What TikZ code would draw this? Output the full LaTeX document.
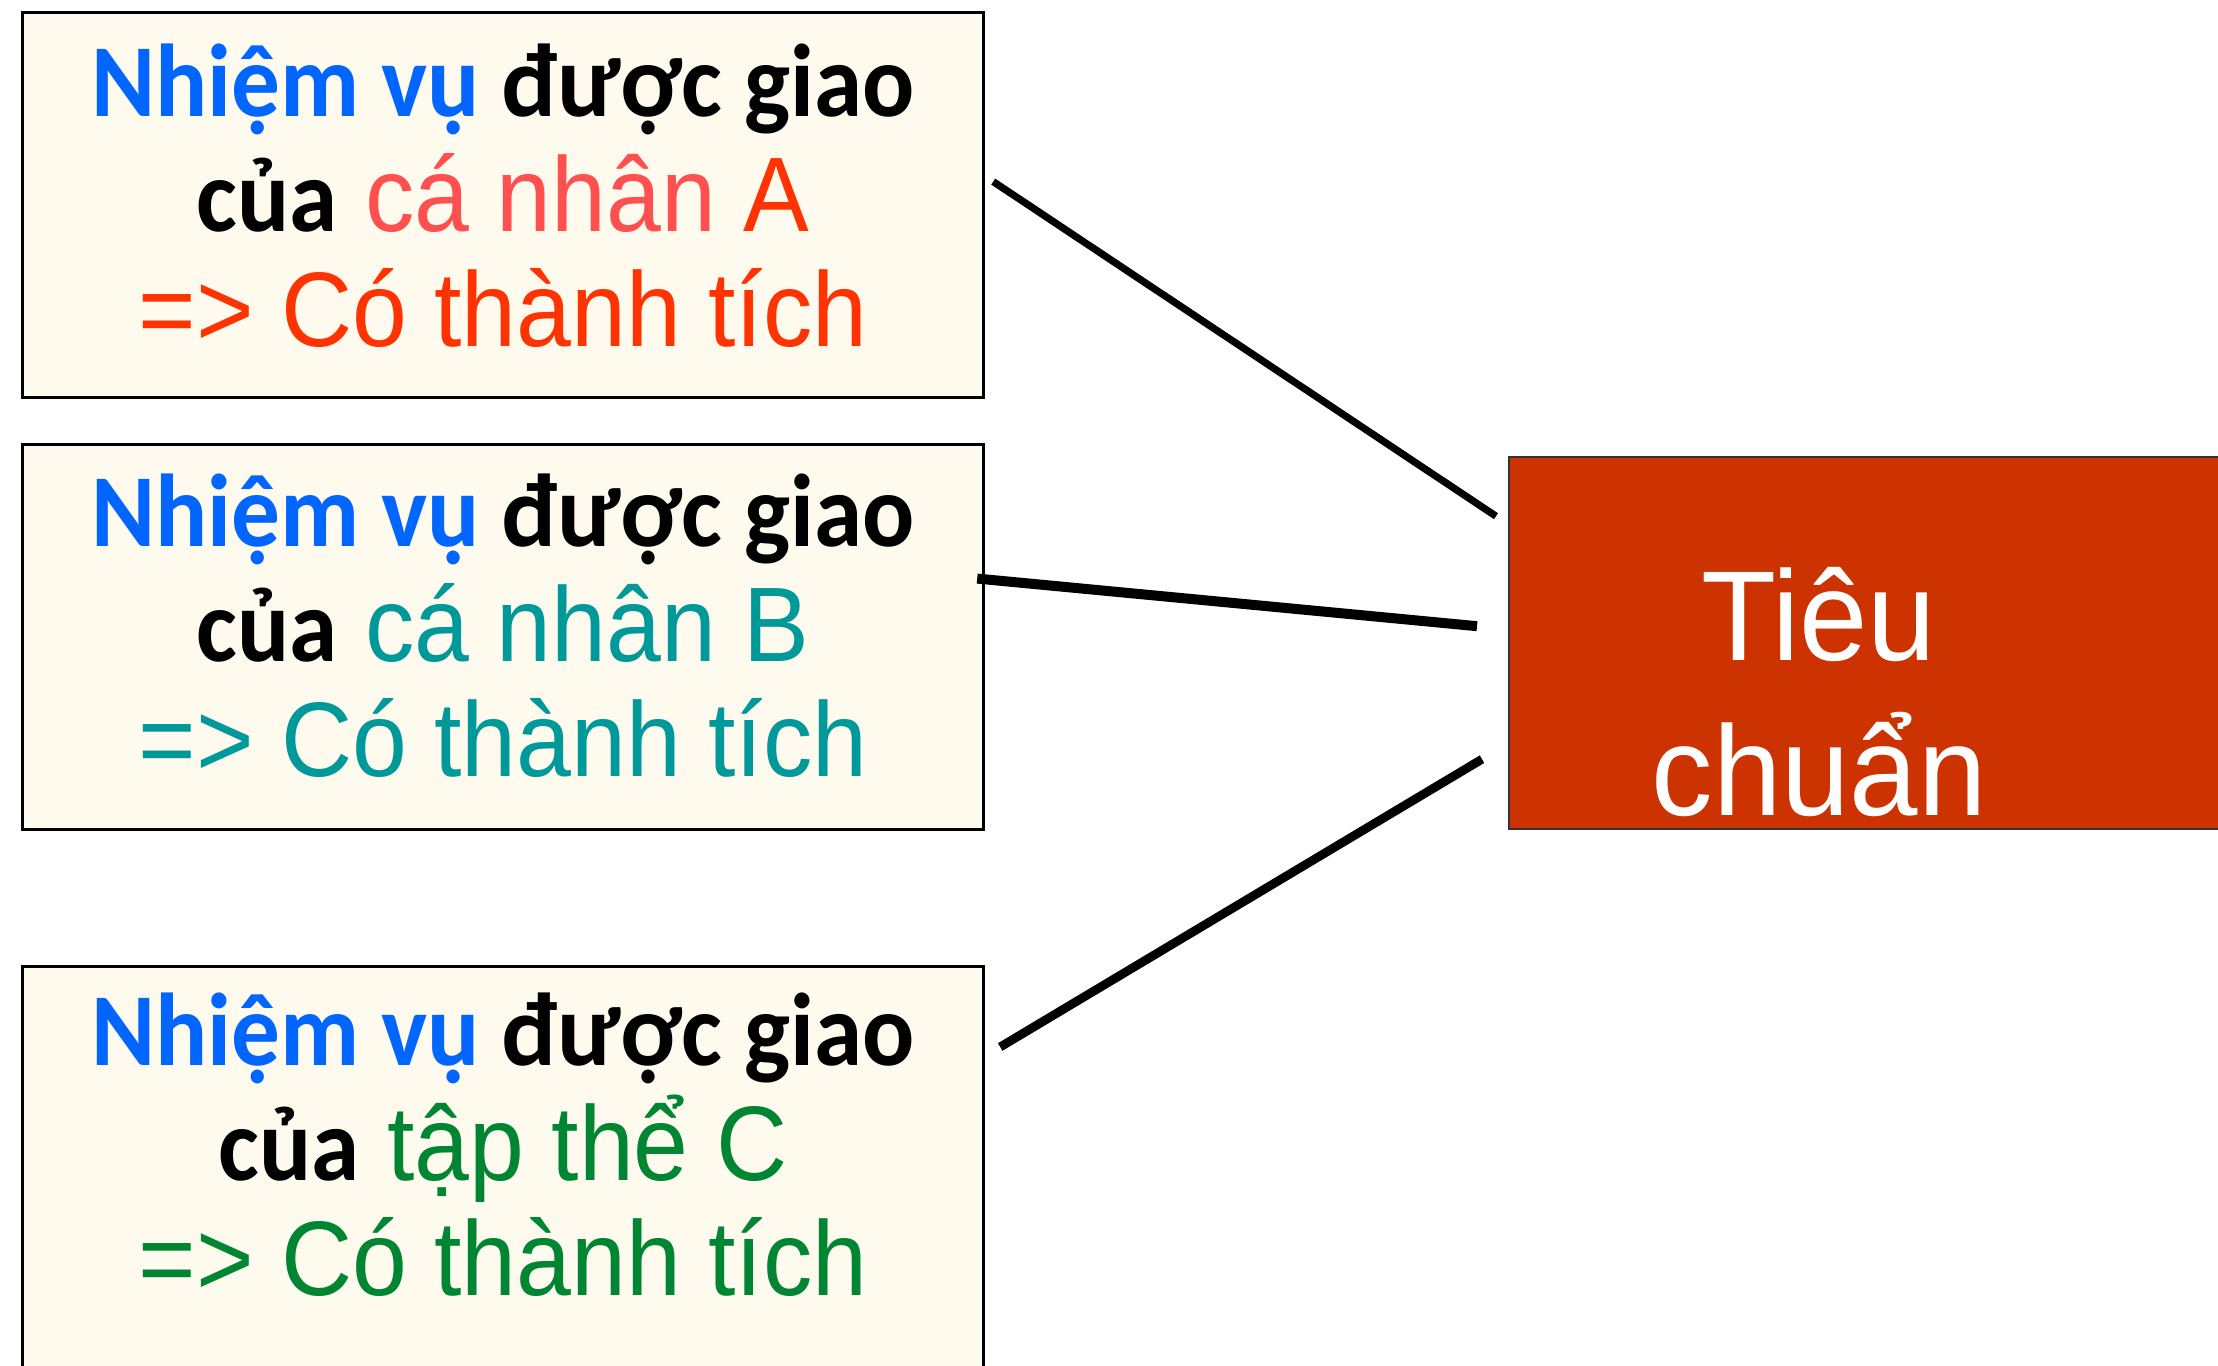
\documentclass[tikz,border=0pt]{standalone}
\usepackage{fontspec}
\setmainfont{Liberation Sans}
\newfontfamily\narrowsans{Liberation Sans}[FakeStretch=0.93,Scale=1.06]
\newfontfamily\critsans{Liberation Sans}[FakeStretch=0.96]
\newfontfamily\calfont{Carlito}[FakeStretch=0.94,Scale=1.035]
\usetikzlibrary{calc}
\usetikzlibrary{positioning}
\definecolor{cream}{HTML}{FFFAEE}
\definecolor{taskblue}{HTML}{0066FF}
\definecolor{salmon}{HTML}{FF5050}
\definecolor{redorange}{HTML}{FF3300}
\definecolor{teal}{HTML}{009999}
\definecolor{taskgreen}{HTML}{008533}
\definecolor{critred}{HTML}{CC3300}
\newcommand{\taskhead}{{\calfont\bfseries\color{taskblue}Nhiệm vụ \color{black}được giao}}
\newcommand{\cuaword}{{\calfont\bfseries của}}

\begin{document}
\begin{tikzpicture}
	[x=0.25pt, y=-0.25pt,
	taskbox/.style = {draw=black, fill=cream, line width=0.8pt, rectangle, inner sep=0pt, minimum width=240.25pt, minimum height=96.25pt, anchor=north west},
	tasktext/.style = {align=center, anchor=base, inner sep=0pt, font=\fontsize{25pt}{28.8pt}\selectfont},
	critbox/.style = {draw=black!80, fill=critred, line width=0.6pt, rectangle, inner sep=0pt, minimum width=180pt, minimum height=93pt, anchor=north west},
	link/.style = {draw=black, line width=#1}
	]
	\useasboundingbox (0,0) rectangle (2218,1366);

	\node[taskbox] (boxA) at (21,11) {};
	\node[taskbox] (boxB) at (21,443) {};
	\node[taskbox, minimum height=105pt] (boxC) at (21,965) {};
	\node[critbox] (crit) at (1508,456) {};

	\node[tasktext] (textA) at ($(boxA.north)+(0,336)$) {\taskhead\\ \cuaword{} {\narrowsans\color{salmon}cá nhân \color{redorange}A}\\ {\narrowsans\color{redorange}=> Có thành tích}};
	\node[tasktext] (textB) at ($(boxB.north)+(0,334)$) {\taskhead\\ \cuaword{} {\narrowsans\color{teal}cá nhân B}\\ {\narrowsans\color{teal}=> Có thành tích}};
	\node[tasktext] (textC) at ($(boxC.north)+(0,331)$) {\taskhead\\ \cuaword{} {\narrowsans\color{taskgreen}tập thể C}\\ {\narrowsans\color{taskgreen}=> Có thành tích}};
	\node[align=center, anchor=base, inner sep=0pt, text=white, font=\critsans\fontsize{32pt}{38.75pt}\selectfont] (critlabel) at (1819,816) {Tiêu\\chuẩn};

	\coordinate (a1) at ($(boxA.east)+(8,-23.5)$);
	\coordinate (a2) at ($(crit.west)+(-12,-127)$);
	\coordinate (b1) at ($(boxB.east)+(-8,-58.5)$);
	\coordinate (b2) at ($(crit.west)+(-31,-17)$);
	\coordinate (c1) at ($(boxC.north east)+(15,82)$);
	\coordinate (c2) at ($(crit.west)+(-26,116)$);

	\draw[link=1.8pt] (a1) -- (a2);
	\draw[link=2.5pt] (b1) -- (b2);
	\draw[link=2.2pt] (c1) -- (c2);
\end{tikzpicture}
\end{document}
